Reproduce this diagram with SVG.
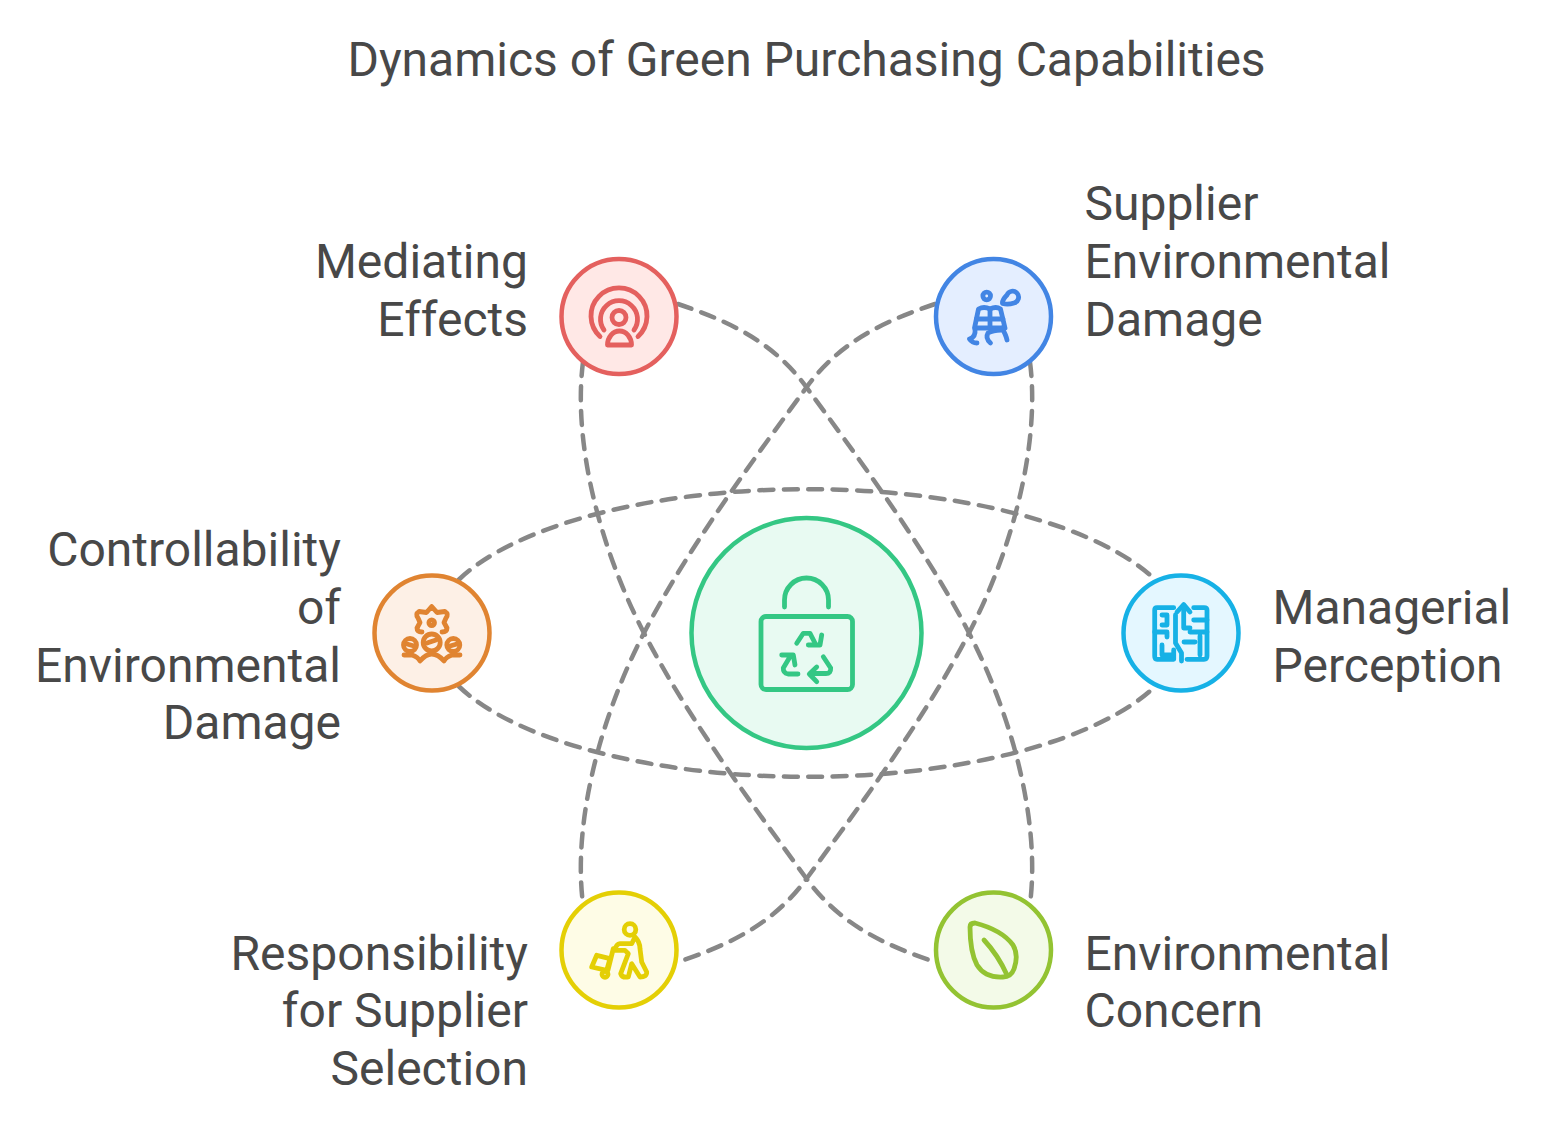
<svg xmlns="http://www.w3.org/2000/svg" width="1556" height="1124" viewBox="0 0 1556 1124">
<style>
text{font-family:Roboto,"Liberation Sans",sans-serif;font-size:48px;fill:#484848}
.e{text-anchor:end}
.c{fill:none;stroke:#878787;stroke-width:4.5;stroke-dasharray:14 10.5;stroke-linecap:round}
.i{fill:none;stroke-width:4.8;stroke-linecap:round;stroke-linejoin:round}
.n{stroke-width:4.500}
</style>
<rect width="1556" height="1124" fill="#fff"/>
<text id="title" x="806.5" y="75.500" text-anchor="middle">Dynamics of Green Purchasing Capabilities</text>
<g id="connectors">
<path class="c" d="M459 579.500A375 144 0 0 1 1155 579.500"/>
<path class="c" d="M459 686.500A375 144 0 0 0 1155 686.500"/>
<path class="c" d="M583 362C573 440 598 545 645 635C690 722 760 815 806 878C840 925 885 945 935 962"/>
<path class="c" d="M678 304C728 321 773 341 807 388C853 451 923 544 968 631C1015 721 1040 826 1030 904"/>
<path class="c" d="M935 304C885 321 840 341 806 388C760 451 690 544 645 631C598 721 573 826 583 904"/>
<path class="c" d="M1030 362C1040 440 1015 545 968 635C923 722 853 815 807 878C773 925 728 945 678 962"/>
</g>
<g id="center">
<circle cx="806.5" cy="633" r="115" fill="#e8faf2" stroke="#34c784" class="n"/>
<g class="i" stroke="#34c784">
<path d="M784.500 607V600a22 22 0 0 1 44 0V607"/>
<rect x="761" y="616.500" width="91.500" height="73" rx="5"/>
<path d="M796.700 643.300L803.300 633.300H810L815 643"/>
<path d="M808.300 645L820 645L821.700 635"/>
<path d="M781.700 655H793.300L795 665M790 656.700L783.300 668Q783 673 788 674H798"/>
<path d="M823.300 656.700L830.700 668Q831 673.500 826 673.500H810M816.700 667L809.300 674L816.700 681.700"/>
</g>
</g>
<g id="mediating">
<circle cx="619" cy="316.500" r="57.500" fill="#ffe8e6" stroke="#e4605e" class="n"/>
<g class="i" stroke="#e4605e">
<circle cx="619" cy="317.500" r="7"/>
<path d="M600 336.500A28 28 0 1 1 638 336.500"/>
<path d="M604 330A18.500 18.500 0 1 1 634 330"/>
<path d="M607.500 345A12 14 0 0 1 631.500 345Z"/>
</g>
</g>
<g id="supplier">
<circle cx="993.500" cy="316.500" r="57.500" fill="#e4eeff" stroke="#4285e4" class="n"/>
<g class="i" stroke="#4285e4">
<circle cx="986.700" cy="296" r="3.800"/>
<path d="M1002.500 303.500Q1002 300 1007 295A6 6 0 1 1 1014 303Q1008 305 1002.500 303.500Z"/>
<path d="M978.500 309Q984 306 990 309Q996 306 1000.500 309L1005 328H974.500Z"/>
<path d="M990 309V328M976.500 319H1003"/>
<path d="M975 329Q976 337 969.500 339Q972 343 977 343M1002 328Q1006 335 1007 340M990.500 343Q985 338 988 333Q993 330 1001 330"/>
</g>
</g>
<g id="controllability">
<circle cx="432" cy="633" r="57.500" fill="#fdf0e6" stroke="#e08431" class="n"/>
<g class="i" stroke="#e08431">
<circle cx="431.700" cy="622.700" r="2.800"/>
<path d="M431.700 606.500L437 612.500L445 611.500Q449 614 446 618L444 622.500L447 628Q447 632 442 632M431.700 606.500L426.500 612.500L419 611.500Q415 614 418 618L420 622.500L417 628Q417 632 422 632"/>
<circle cx="410" cy="645" r="6.500"/>
<circle cx="431.700" cy="642.500" r="8.500"/>
<circle cx="453.300" cy="645" r="6.500"/>
<path d="M407 644L414 646M427 643L436 640M450 646L457 644"/>
<path d="M404 655L412 655Q418 657 420 661Q426 654 431.700 654Q438 654 444 661Q446 657 452 655L460 655"/>
</g>
</g>
<g id="managerial">
<circle cx="1181" cy="633" r="57.500" fill="#e4f7ff" stroke="#16b1e6" class="n"/>
<g class="i" stroke="#16b1e6">
<path d="M1173.700 607.700H1157Q1154.700 607.700 1154.700 610V656Q1154.700 659.300 1157 659.300H1173.700V650"/>
<path d="M1193.700 607.700H1204Q1207 607.700 1207 610V656Q1207 659.300 1204 659.300H1187"/>
<path d="M1177 612L1183.700 604.500L1190 612"/>
<path d="M1183.700 606V628H1190M1175.500 615V643L1181.500 653V661"/>
<path d="M1162 615H1167V625H1162M1154.700 632H1167V637M1162 645V655H1173"/>
<path d="M1193.700 620H1207M1190 632H1207M1195 642H1184M1200 636V655"/>
</g>
</g>
<g id="responsibility">
<circle cx="619" cy="950" r="57.500" fill="#fefce6" stroke="#e4cf05" class="n"/>
<g class="i" stroke="#e4cf05">
<circle cx="630" cy="929.500" r="5.800"/>
<path d="M615 950.300Q616 944 620 943.700H631.700L635 937Q640 942 640 948.700L641.700 962L646.700 972Q647 977 640 977L631.700 963.700L628.300 977Q622 978 620.700 973.700L628.300 953.700L625 950.300Z"/>
<path d="M596.700 955.300L610 958.700L606.700 970.300L591.700 967Z"/>
<path d="M613.300 948.700L608 970"/>
<circle cx="605" cy="974.300" r="3"/>
</g>
</g>
<g id="environmental">
<circle cx="993.500" cy="950" r="57.500" fill="#f3fae8" stroke="#93c332" class="n"/>
<g class="i" stroke="#93c332">
<path d="M970 927Q970 923 975 923Q1002 930 1013 945Q1019 955 1014 969Q1011 977 1003 977Q985 978 977 965Q970 952 970 927Z"/>
<path d="M984 940Q998 955 1007 975"/>
</g>
</g>
<g id="label-mediating"><text class="e" x="528" y="277.500">Mediating</text><text class="e" x="528" y="335.500">Effects</text></g>
<g id="label-supplier"><text x="1084.500" y="219.500">Supplier</text><text x="1084.500" y="277.500">Environmental</text><text x="1084.500" y="335.500">Damage</text></g>
<g id="label-controllability"><text class="e" x="341" y="565.500">Controllability</text><text class="e" x="341" y="623.500">of</text><text class="e" x="341" y="681.500">Environmental</text><text class="e" x="341" y="738.500">Damage</text></g>
<g id="label-managerial"><text x="1272.500" y="623.500">Managerial</text><text x="1272.500" y="681.500">Perception</text></g>
<g id="label-responsibility"><text class="e" x="528" y="969.500">Responsibility</text><text class="e" x="528" y="1026.500">for Supplier</text><text class="e" x="528" y="1084.500">Selection</text></g>
<g id="label-environmental"><text x="1084.500" y="969.500">Environmental</text><text x="1084.500" y="1026.500">Concern</text></g>
</svg>
